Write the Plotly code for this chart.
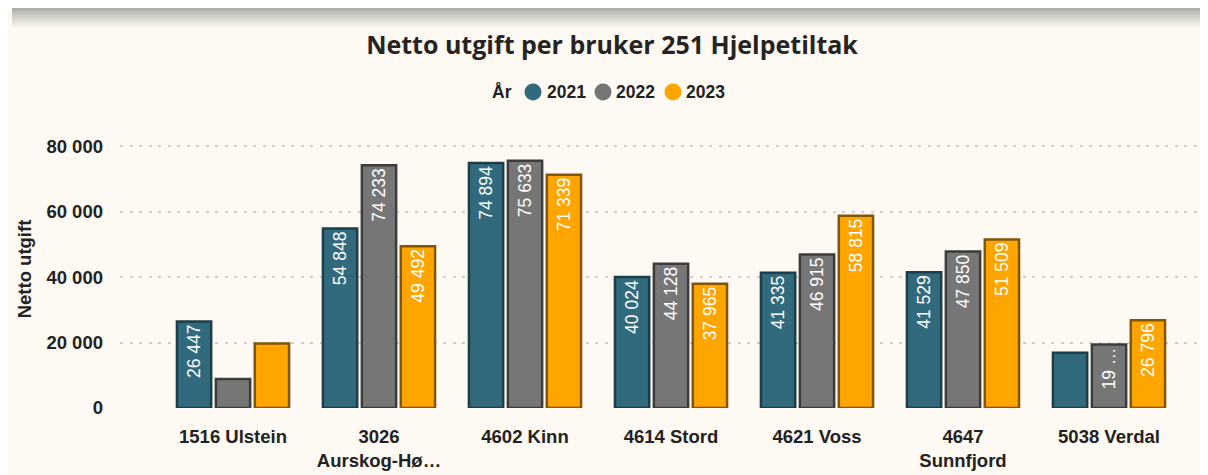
import plotly.graph_objects as go

categories = ["1516 Ulstein", "3026<br>Aurskog-Hø…", "4602 Kinn", "4614 Stord",
              "4621 Voss", "4647<br>Sunnfjord", "5038 Verdal"]
years = ["2021", "2022", "2023"]
v2021 = [26447, 54848, 74894, 40024, 41335, 41529, 16900]
v2022 = [8900, 74233, 75633, 44128, 46915, 47850, 19400]
v2023 = [19700, 49492, 71339, 37965, 58815, 51509, 26796]
lbl2021 = ["26 447", "54 848", "74 894", "40 024", "41 335", "41 529", ""]
lbl2022 = ["", "74 233", "75 633", "44 128", "46 915", "47 850", "19 …"]
lbl2023 = ["", "49 492", "71 339", "37 965", "58 815", "51 509", "26 796"]
y_ticks = [0, 20000, 40000, 60000, 80000]
y_tick_text = ["0", "20 000", "40 000", "60 000", "80 000"]

fills = ["#306A7C", "#767676", "#FFA500"]
edges = ["#1C3E49", "#3C3C3C", "#80560A"]

# the page body adds an 8px offset; figure coords = screen coords - 8
OFF = 8
W, H = 1208 - OFF, 475 - OFF
L, R, T, B = 120 - OFF, 1203 - OFF, 130 - OFF, 408 - OFF
CAT0, STEP = 233 - OFF, 146

def px2paper_x(px):
    return (px - OFF - L) / (R - L)

def px2paper_y(py):
    return (B - (py - OFF)) / (B - T)

fig = go.Figure()
for vals, lbls, yr, fc, ec in zip([v2021, v2022, v2023], [lbl2021, lbl2022, lbl2023], years, fills, edges):
    fig.add_trace(go.Bar(
        x=categories, y=vals, name=yr, text=lbls, textposition="inside",
        insidetextanchor="end", textangle=-90,
        textfont=dict(color="white", size=17.5, family="Liberation Sans"),
        marker=dict(color=fc, line=dict(color=ec, width=2.5)),
        showlegend=False, hoverinfo="skip"))

shapes = []
annotations = []

# card top shadow decoration (screen px coords)
c0 = (172, 172, 170)
c1 = (254, 249, 242)
n = 20
for i in range(n):
    t = (i / (n - 1)) ** 0.8
    c = tuple(int(round(a + (b - a) * t)) for a, b in zip(c0, c1))
    y_top = 9 + i if i > 0 else 0
    shapes.append(dict(type="rect", xref="paper", yref="paper", layer="below",
                       x0=px2paper_x(12), x1=px2paper_x(1215),
                       y0=px2paper_y(9 + i + 1), y1=px2paper_y(y_top),
                       fillcolor="rgb(%d,%d,%d)" % c, line=dict(width=0)))

# legend drawn manually (circle markers, tight spacing)
LEG_Y = 92
annotations.append(dict(text="<b>År</b>", xref="paper", yref="paper",
                        x=px2paper_x(490), y=px2paper_y(LEG_Y), xanchor="left", yanchor="middle",
                        showarrow=False, font=dict(size=17.5, color="#222", family="Liberation Sans")))
leg_circle_x = [533, 603, 673]
leg_text_x = [545, 614, 684]
for yr, fc, cx, tx in zip(years, fills, leg_circle_x, leg_text_x):
    shapes.append(dict(type="circle", xref="paper", yref="paper",
                       xsizemode="pixel", ysizemode="pixel",
                       xanchor=px2paper_x(cx), yanchor=px2paper_y(LEG_Y),
                       x0=-8.5, x1=8.5, y0=-8.5, y1=8.5,
                       fillcolor=fc, line=dict(width=0)))
    annotations.append(dict(text="<b>%s</b>" % yr, xref="paper", yref="paper",
                            x=px2paper_x(tx), y=px2paper_y(LEG_Y), xanchor="left", yanchor="middle",
                            showarrow=False, font=dict(size=17.5, color="#222", family="Liberation Sans")))

fig.update_layout(
    width=W, height=H,
    margin=dict(l=L, r=W - R, t=T, b=H - B, autoexpand=False),
    paper_bgcolor="#FEF9F2", plot_bgcolor="rgba(0,0,0,0)",
    barmode="group", bargap=0.2, bargroupgap=0.12,
    showlegend=False,
    title=dict(text="<b>Netto utgift per bruker 251 Hjelpetiltak</b>",
               x=(612 - OFF) / W, xref="container", xanchor="center",
               y=1 - (45 - OFF) / H, yanchor="middle", yref="container",
               font=dict(size=25, color="#252423", family="Open Sans")),
    font=dict(family="Liberation Sans"),
    shapes=shapes,
    annotations=annotations,
    xaxis=dict(range=[(L - CAT0) / STEP, (R - CAT0) / STEP], showgrid=False, zeroline=False,
               showline=False, ticks="", ticklabelstandoff=15,
               tickfont=dict(size=18.5, color="#222", weight="bold")),
    yaxis=dict(range=[0, 85000], tickvals=y_ticks, ticktext=y_tick_text,
               showgrid=True, gridcolor="#D2CECA", griddash="3px,6.5px", gridwidth=2,
               zeroline=False, showline=False, ticks="", ticklabelstandoff=16,
               tickfont=dict(size=18.5, color="#222", weight="bold"),
               title=dict(text="<b>Netto utgift</b>", standoff=9,
                          font=dict(size=18.5, color="#222"))),
)

fig.write_html("out.html")
